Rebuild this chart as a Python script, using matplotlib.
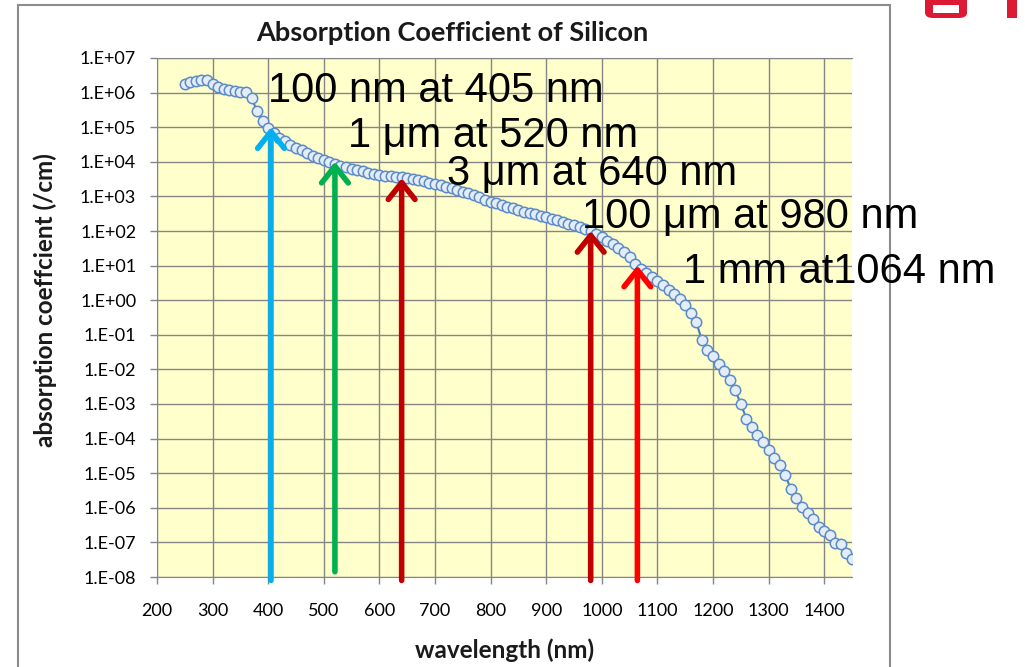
import numpy as np
import matplotlib
matplotlib.use('Agg')
import matplotlib.pyplot as plt
from matplotlib.patches import Rectangle, FancyBboxPatch
from matplotlib.ticker import FixedLocator, FuncFormatter, NullLocator

W, H = 1025, 667

# absorption coefficient of silicon, 10 nm steps (/cm)
wavelength = [250, 260, 270, 280, 290, 300, 310, 320, 330, 340,
              350, 360, 370, 380, 390, 400, 410, 420, 430, 440,
              450, 460, 470, 480, 490, 500, 510, 520, 530, 540,
              550, 560, 570, 580, 590, 600, 610, 620, 630, 640,
              650, 660, 670, 680, 690, 700, 710, 720, 730, 740,
              750, 760, 770, 780, 790, 800, 810, 820, 830, 840,
              850, 860, 870, 880, 890, 900, 910, 920, 930, 940,
              950, 960, 970, 980, 990, 1000, 1010, 1020, 1030, 1040,
              1050, 1060, 1070, 1080, 1090, 1100, 1110, 1120, 1130, 1140,
              1150, 1160, 1170, 1180, 1190, 1200, 1210, 1220, 1230, 1240,
              1250, 1260, 1270, 1280, 1290, 1300, 1310, 1320, 1330, 1340,
              1350, 1360, 1370, 1380, 1390, 1400, 1410, 1420, 1430, 1440,
              1450]
alpha = [1.82e6, 2.0e6, 2.19e6, 2.34e6, 2.29e6, 1.78e6, 1.45e6, 1.29e6, 1.17e6, 1.10e6,
         1.05e6, 1.02e6, 6.9e5, 2.95e5, 1.48e5, 9.5e4, 6.8e4, 5.0e4, 3.98e4, 3.1e4,
         2.57e4, 2.14e4, 1.74e4, 1.45e4, 1.26e4, 1.12e4, 1.0e4, 8.9e3, 7.8e3, 7.1e3,
         6.3e3, 5.75e3, 5.25e3, 4.8e3, 4.45e3, 4.25e3, 3.98e3, 3.8e3, 3.63e3, 3.55e3,
         3.3e3, 3.1e3, 2.9e3, 2.7e3, 2.5e3, 2.35e3, 2.15e3, 1.9e3, 1.74e3, 1.58e3,
         1.38e3, 1.26e3, 1.1e3, 980, 810, 710, 630, 560, 500, 450,
         400, 360, 330, 300, 275, 250, 225, 205, 182, 162,
         145, 129, 115, 100, 81, 66, 52, 42, 32, 25,
         17.4, 11.2, 7.9, 6.0, 4.6, 3.5, 2.7, 2.0, 1.55, 1.05,
         0.71, 0.43, 0.23, 0.069, 0.037, 0.024, 0.014, 8.7e-3, 4.9e-3, 2.5e-3,
         1.0e-3, 3.8e-4, 2.2e-4, 1.26e-4, 7.9e-5, 4.6e-5, 2.8e-5, 1.7e-5, 8.7e-6, 3.5e-6,
         1.9e-6, 1.05e-6, 7.1e-7, 4.6e-7, 2.8e-7, 2.2e-7, 1.6e-7, 9.3e-8, 8.9e-8, 4.8e-8,
         3.4e-8]

# penetration depth markers
arrow_nm = [405, 520, 640, 980, 1064]
depth_cm = [1e-5, 1e-4, 3e-4, 1e-2, 1e-1]
arrow_labels = ['100 nm at 405 nm', '1 \u03bcm at 520 nm', '3 \u03bcm at 640 nm',
                '100 \u03bcm at 980 nm', '1 mm at1064 nm']
arrow_colors = ['#00B0F0', '#00B050', '#C00000', '#C00000', '#FF0000']
arrow_base = [-8.1, -7.85, -8.1, -8.1, -8.1]
label_px = [(268, 102), (348, 147), (447, 185), (582, 228), (683, 283)]

xticks = list(range(200, 1401, 100))
ydecades = list(range(-8, 8))


def fig_xy(x, y):
    return x / W, 1 - y / H


plt.rcParams['font.family'] = ['Lato', 'DejaVu Sans']

fig = plt.figure(figsize=(W / 100, H / 100), dpi=100)
ax = fig.add_axes([157 / W, 1 - 577 / H, (852 - 157) / W, (577 - 58) / H])
ax.set_facecolor('#FFFFCC')

ax.plot(wavelength, alpha, '-o', color='#4A7EBB', lw=1.5, ms=7.5,
        mfc='#E4ECF6', mec='#5B8BC8', mew=1.1, zorder=3)

for nm, d, c, b in zip(arrow_nm, depth_cm, arrow_colors, arrow_base):
    ax.annotate('', xy=(nm, 1.0 / d), xytext=(nm, 10.0 ** b),
                arrowprops=dict(arrowstyle='->,head_length=1.0,head_width=0.8',
                                color=c, lw=4, mutation_scale=12,
                                shrinkA=0, shrinkB=0),
                annotation_clip=False, zorder=5)

ax.set_xlim(200, 1450)
ax.set_yscale('log')
ax.set_ylim(1e-8, 1e7)
ax.xaxis.set_major_locator(FixedLocator(xticks))
ax.yaxis.set_major_locator(FixedLocator([10.0 ** k for k in ydecades]))
ax.yaxis.set_minor_locator(NullLocator())
ax.yaxis.set_major_formatter(FuncFormatter(
    lambda v, p: '1.E%+03d' % int(round(np.log10(v)))))
ax.grid(True, color='#868686', lw=1)
ax.set_axisbelow(True)
ax.tick_params(direction='out', length=5, width=1, color='#868686',
               labelsize=13, labelcolor='black')
ax.tick_params(axis='y', pad=10)
ax.tick_params(axis='x', pad=14)
for s in ['left', 'bottom', 'top']:
    ax.spines[s].set_color('#868686')
ax.spines['right'].set_visible(False)

for txt, (x, y) in zip(arrow_labels, label_px):
    fx, fy = fig_xy(x, y)
    fig.text(fx, fy, txt, family=['Liberation Sans', 'DejaVu Sans'],
             fontsize=30, ha='left', va='baseline', color='black', zorder=10)

fx, fy = fig_xy(452, 33)
fig.text(fx, fy, 'Absorption Coefficient of Silicon', fontsize=19.5,
         fontweight='bold', ha='center', va='center', color='#1a1a1a')
fx, fy = fig_xy(505, 650)
fig.text(fx, fy, 'wavelength (nm)', fontsize=17.5, fontweight='bold',
         ha='center', va='center', color='#1a1a1a')
fx, fy = fig_xy(45, 300)
fig.text(fx, fy, 'absorption coeffcient (/cm)', fontsize=17.5, fontweight='bold',
         ha='center', va='center', rotation=90, color='#1a1a1a')

# chart frame
fig.add_artist(Rectangle((18 / W, -0.1), (890 - 18) / W, 1.1 - 5 / H,
                         transform=fig.transFigure, fill=False,
                         ec='#8C8C8C', lw=1.5))

# corner logo, mostly cropped by the top edge
logo_red = '#DD1A33'
fig.add_artist(FancyBboxPatch((925 / W, 1 - 18 / H), 42 / W, 30 / H,
                              boxstyle='round,pad=0,rounding_size=0.008',
                              transform=fig.transFigure, fc=logo_red, ec='none'))
fig.add_artist(Rectangle((933 / W, 1 - 13 / H), 26 / W, 8 / H,
                         transform=fig.transFigure, fc='white', ec='none'))
fig.add_artist(Rectangle((1007 / W, 1 - 18 / H), 10 / W, 20 / H,
                         transform=fig.transFigure, fc=logo_red, ec='none'))

fig.savefig('out.png', dpi=100)
